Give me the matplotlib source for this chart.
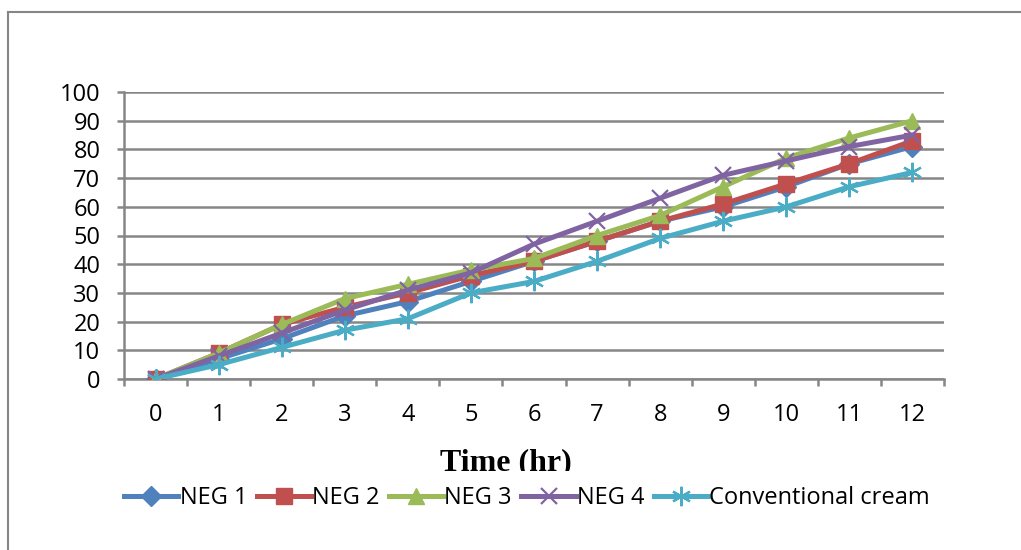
import matplotlib.pyplot as plt
from matplotlib.lines import Line2D
from matplotlib.transforms import Bbox

hours = list(range(13))
neg1 = [0, 7, 14, 22, 27, 34, 41, 48, 55, 60, 67, 75, 81]
neg2 = [0, 9, 19, 25, 30, 36, 41, 48, 55, 61, 68, 75, 83]
neg3 = [0, 9, 19, 28, 33, 38, 42, 50, 57, 67, 77, 84, 90]
neg4 = [0, 8, 16, 24, 31, 37, 47, 55, 63, 71, 76, 81, 85]
conventional = [0, 5, 11, 17, 21, 30, 34, 41, 49, 55, 60, 67, 72]

names = ['NEG 1', 'NEG 2', 'NEG 3', 'NEG 4', 'Conventional cream']
series = [neg1, neg2, neg3, neg4, conventional]
colors = ['#4F81BD', '#C0504D', '#9BBB59', '#8064A2', '#4BACC6']
markers = ['D', 's', '^', 'x', '*']

plt.rcParams['font.family'] = ['Open Sans', 'DejaVu Sans']


def style(m, c):
    # marker settings close to the Excel look
    if m == 'x':
        return dict(marker='x', ms=12, mew=1.6)
    if m == '*':
        return dict(marker=(6, 2, 0), ms=14, mew=1.6, mec=c)
    return dict(marker=m, ms=10 if m == 'D' else 12, mec=c)


fig = plt.figure(figsize=(10.21, 5.5), dpi=100)
ax = fig.add_axes([124 / 1021, 1 - 379 / 550, (944 - 124) / 1021, (379 - 92) / 550])

grid_c = '#868686'
for v, name, c, m in zip(series, names, colors, markers):
    ax.plot(hours, v, color=c, lw=3.6, label=name, zorder=3, **style(m, c))

ax.set_xlim(-0.5, 12.5)
ax.set_ylim(0, 100)
ax.set_yticks(range(0, 101, 10))
ax.set_xticks(hours)
ax.set_xticks([h - 0.5 for h in hours] + [12.5], minor=True)
ax.yaxis.grid(True, color=grid_c, lw=1.8)
ax.set_axisbelow(True)
for s in ['top', 'right']:
    ax.spines[s].set_visible(False)
for s in ['left', 'bottom']:
    ax.spines[s].set_color(grid_c)
    ax.spines[s].set_linewidth(1.8)
ax.tick_params(axis='x', which='major', length=0, pad=17, labelsize=17)
ax.tick_params(axis='x', which='minor', length=5, width=1.8, color=grid_c, direction='out')
ax.tick_params(axis='y', length=5, width=1.8, color=grid_c, labelsize=17, pad=12)

t = fig.text(506 / 1021, 1 - 463 / 550, 'Time (hr)', ha='center', va='center',
             fontsize=23, fontweight='bold', family='Liberation Serif')
t.set_clip_box(Bbox.from_extents(0, 550 - 471, 1021, 550))
t.set_clip_on(True)

handles = [Line2D([], [], color=c, lw=3.6, **style(m, c)) for c, m in zip(colors, markers)]
fig.legend(handles, names, loc='center', bbox_to_anchor=(527 / 1021, 1 - 498 / 550), ncol=5,
           frameon=False, fontsize=17, handlelength=2.3, handletextpad=0.05, columnspacing=0.4)

fig.add_artist(Line2D([8 / 1021, 8 / 1021], [0, 1 - 12 / 550], color=grid_c, lw=1.5))
fig.add_artist(Line2D([8 / 1021, 1], [1 - 12 / 550, 1 - 12 / 550], color=grid_c, lw=1.5))

fig.savefig('out.png', dpi=100)
